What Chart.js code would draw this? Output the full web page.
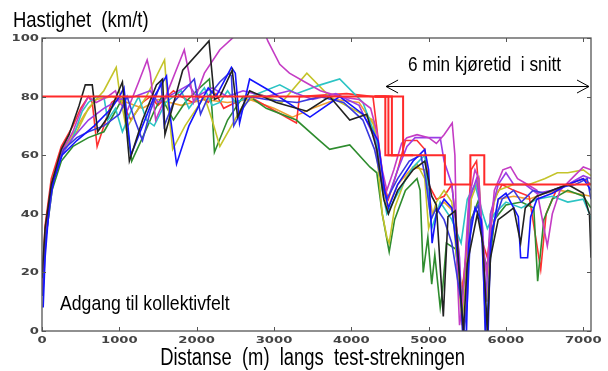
<!DOCTYPE html>
<html>
<head>
<meta charset="utf-8">
<script src="https://cdn.jsdelivr.net/npm/chart.js@4.4.0/dist/chart.umd.min.js"></script>
<style>
  html, body { margin: 0; padding: 0; background: #fff; }
  #wrap { width: 608px; height: 371px; }
</style>
</head>
<body>
<div id="wrap"><canvas id="speedChart" width="608" height="371"></canvas></div>
<script>
// Axis ticks
const distanceTicks = [0, 1000, 2000, 3000, 4000, 5000, 6000, 7000];
const speedTicks = [0, 20, 40, 60, 80, 100];

// Speed limit along the stretch [distance m, km/t]
const limitMain = [[0, 80], [4440, 80], [4440, 60], [5210, 60], [5210, 50], [5540, 50], [5540, 60], [5720, 60], [5720, 50], [7100, 50]];
const limitB = [[4300, 80], [4480, 80], [4480, 60], [4600, 60]];
const limitC = [[4300, 80], [4525, 80], [4525, 60], [4600, 60]];
const limitD = [[4300, 80], [4670, 80], [4670, 60], [4800, 60]];

// Test runs [distance m, km/t]
const runBlack = [[0, 18], [40, 35], [120, 50], [250, 62], [350, 67], [480, 77], [560, 84], [650, 84], [720, 68], [850, 73], [1040, 85], [1130, 58], [1300, 72], [1480, 84], [1560, 86], [1590, 67], [1820, 89], [2160, 99], [2230, 79], [2300, 80], [2460, 89], [2530, 73], [2685, 82], [3030, 78], [3425, 75], [3720, 80], [3980, 72], [4200, 74], [4330, 62], [4420, 45], [4480, 40], [4600, 48], [4800, 55], [4950, 58], [5040, 46], [5100, 43], [5190, 5], [5250, 39], [5345, 41], [5410, 14], [5450, 0], [5500, 23], [5630, 40], [5700, 30], [5760, 0], [5800, 25], [5900, 38], [6000, 40], [6100, 42], [6190, 30], [6250, 42], [6400, 46], [6600, 48], [6800, 50], [7000, 47], [7080, 40], [7100, 25]];
const runBlue = [[15, 8], [40, 25], [100, 45], [160, 52], [260, 60], [450, 65], [675, 70], [900, 76], [1000, 80], [1060, 83], [1150, 60], [1300, 70], [1450, 80], [1610, 87], [1650, 75], [1740, 57], [1900, 70], [2050, 78], [2150, 83], [2250, 80], [2450, 90], [2500, 88], [2555, 71], [2685, 86], [2945, 82], [3465, 73], [3850, 80], [4150, 74], [4345, 65], [4430, 48], [4480, 42], [4600, 50], [4800, 58], [4950, 62], [5000, 55], [5045, 30], [5100, 40], [5200, 45], [5300, 42], [5400, 20], [5440, 0], [5490, 0], [5520, 30], [5600, 42], [5680, 38], [5740, 0], [5770, 0], [5800, 30], [5900, 45], [6000, 47], [6160, 39], [6190, 25], [6280, 25], [6320, 39], [6400, 45], [6600, 47], [6800, 50], [7000, 52], [7100, 48]];
const runBlue2 = [[10, 12], [50, 32], [150, 52], [280, 62], [450, 66], [600, 68], [800, 70], [1000, 74], [1100, 80], [1200, 72], [1300, 65], [1400, 75], [1500, 82], [1540, 85], [1580, 70], [1700, 78], [1970, 86], [2050, 74], [2150, 80], [2300, 85], [2420, 88], [2450, 87], [2480, 70], [2600, 76], [2700, 80], [2900, 79], [3300, 78], [3600, 80], [3900, 78], [4150, 72], [4300, 62], [4400, 50], [4460, 45], [4600, 52], [4750, 58], [4900, 60], [4960, 52], [5030, 38], [5100, 42], [5200, 38], [5300, 30], [5420, 10], [5460, 0], [5500, 10], [5550, 38], [5640, 43], [5700, 30], [5730, 0], [5760, 5], [5820, 35], [5950, 45], [6100, 48], [6200, 44], [6350, 48], [6500, 47], [6700, 49], [6900, 50], [7050, 52], [7100, 45]];
const runCyan = [[0, 15], [40, 33], [130, 50], [250, 60], [400, 66], [520, 75], [600, 78], [700, 80], [800, 80], [850, 72], [950, 76], [1040, 68], [1150, 75], [1250, 80], [1350, 72], [1450, 70], [1600, 78], [1700, 80], [1800, 82], [1900, 76], [2100, 83], [2200, 77], [2300, 78], [2400, 82], [2500, 78], [2700, 80], [3075, 84], [3290, 81], [3600, 84], [3850, 86], [4150, 78], [4320, 66], [4400, 48], [4460, 40], [4600, 47], [4800, 56], [4950, 60], [5000, 45], [5040, 35], [5150, 44], [5300, 38], [5420, 30], [5500, 45], [5600, 50], [5700, 40], [5760, 35], [5850, 40], [6000, 44], [6200, 42], [6400, 45], [6600, 46], [6800, 44], [7000, 45], [7080, 40], [7100, 38]];
const runYellow = [[0, 14], [50, 35], [150, 53], [300, 63], [450, 68], [600, 76], [800, 82], [960, 90], [1000, 82], [1090, 69], [1200, 74], [1350, 80], [1500, 88], [1585, 92.5], [1620, 80], [1690, 62], [1850, 70], [2000, 76], [2100, 80], [2200, 72], [2300, 63], [2450, 70], [2600, 77], [2800, 81], [3100, 78], [3425, 88], [3720, 80], [4000, 76], [4280, 72], [4350, 55], [4400, 40], [4460, 32], [4490, 30], [4560, 42], [4700, 52], [4850, 57], [4950, 52], [5000, 35], [5100, 44], [5200, 48], [5300, 44], [5380, 20], [5430, 2], [5480, 18], [5550, 45], [5650, 52], [5720, 18], [5760, 10], [5800, 40], [5900, 48], [6100, 50], [6300, 50], [6500, 52], [6665, 54], [6800, 54], [7000, 55], [7100, 53]];
const runMagenta = [[0, 13], [40, 32], [120, 50], [250, 61], [400, 68], [500, 75], [600, 80], [700, 78], [850, 80], [950, 82], [1000, 78], [1100, 75], [1250, 85], [1360, 92.5], [1400, 88], [1470, 72], [1600, 80], [1750, 90], [1840, 96], [1900, 88], [1960, 78], [2100, 88], [2300, 96], [2465, 100], [2550, 104], [2850, 104], [2920, 99], [3075, 91], [3200, 88], [3400, 85], [3600, 82], [3850, 80], [4100, 79], [4250, 76], [4330, 68], [4400, 55], [4460, 48], [4550, 55], [4650, 64], [4720, 66], [4850, 67], [5000, 66], [5100, 64], [5200, 67], [5305, 71], [5340, 60], [5370, 20], [5400, 2], [5440, 10], [5520, 45], [5600, 55], [5650, 52], [5700, 30], [5750, 20], [5850, 48], [5960, 55], [6060, 56], [6150, 52], [6280, 50], [6400, 48], [6535, 29], [6600, 40], [6700, 48], [6850, 52], [7000, 56], [7100, 55]];
const runGreen = [[0, 12], [40, 30], [130, 48], [250, 58], [400, 63], [600, 66], [800, 68], [950, 75], [1050, 80], [1100, 70], [1160, 58], [1300, 66], [1450, 75], [1550, 80], [1600, 77], [1700, 72], [1850, 78], [2000, 82], [2165, 86], [2200, 75], [2230, 61], [2400, 72], [2600, 80], [2685, 80], [2900, 76], [3290, 72], [3590, 65], [3720, 62], [3980, 63.5], [4240, 56], [4330, 54], [4400, 40], [4490, 27], [4560, 38], [4700, 48], [4850, 52], [4890, 48], [4930, 20], [4990, 32], [5040, 16], [5080, 26], [5150, 8], [5180, 14], [5230, 30], [5350, 28], [5420, 10], [5480, 20], [5550, 38], [5650, 45], [5720, 25], [5780, 20], [5850, 38], [6000, 43], [6200, 44], [6360, 42], [6410, 17], [6490, 38], [6600, 45], [6800, 48], [7000, 46], [7100, 42]];
const runRed = [[0, 16], [40, 36], [120, 52], [250, 63], [400, 70], [500, 76], [600, 80], [650, 78], [713, 63], [800, 70], [900, 78], [1000, 80], [1150, 72], [1300, 78], [1400, 80], [1500, 77], [1700, 82], [1800, 80], [1950, 78], [2050, 80], [2150, 78], [2250, 81], [2350, 76], [2500, 78], [2685, 80], [3290, 71], [3330, 80], [3940, 81], [4280, 80], [4350, 65], [4420, 50], [4480, 45], [4600, 55], [4700, 65], [4850, 65], [4950, 62], [5000, 50], [5100, 45], [5200, 46], [5300, 50], [5380, 30], [5420, 10], [5480, 25], [5550, 55], [5620, 58], [5700, 30], [5760, 25], [5850, 45], [5950, 50], [6100, 48], [6300, 46], [6450, 21], [6520, 40], [6650, 48], [6800, 50], [7000, 52], [7100, 50]];
const runOrange = [[0, 15], [40, 34], [130, 51], [260, 62], [420, 68], [550, 74], [700, 79], [900, 80], [1100, 78], [1300, 76], [1500, 79], [1800, 77], [2100, 79], [2400, 78], [2685, 79], [3000, 76], [3240, 73], [3500, 76], [3800, 79], [4100, 78], [4300, 70], [4400, 50], [4470, 42], [4600, 50], [4800, 56], [4950, 55], [5050, 40], [5200, 44], [5350, 40], [5420, 15], [5480, 20], [5560, 48], [5650, 50], [5720, 20], [5780, 25], [5900, 45], [6100, 46], [6300, 45], [6500, 47], [6700, 48], [6900, 47], [7100, 46]];
const runPurple = [[0, 14], [40, 31], [130, 50], [250, 60], [400, 66], [600, 72], [800, 76], [1000, 79], [1200, 80], [1400, 82], [1500, 78], [1700, 81], [1900, 84], [2000, 80], [2200, 83], [2400, 80], [2600, 82], [2900, 80], [3200, 82], [3500, 79], [3800, 81], [4100, 77], [4300, 66], [4400, 50], [4470, 45], [4600, 55], [4720, 63], [4825, 66], [5000, 66], [5150, 66], [5200, 58], [5300, 50], [5400, 25], [5440, 0], [5480, 5], [5530, 45], [5620, 52], [5700, 35], [5740, 10], [5800, 40], [5900, 50], [6000, 54], [6100, 50], [6250, 50], [6400, 47], [6600, 48], [6800, 50], [7000, 53], [7100, 52]];

// Travel-time arrow
const arrowFrom = 4450;
const arrowTo = 7100;
const arrowSpeed = 83.5;

function toPoints(pairs) {
    return pairs.map(([x, y]) => ({ x: x, y: y }));
}

function runDataset(pairs, color, width) {
    return {
        data: toPoints(pairs),
        borderColor: color,
        borderWidth: width || 1.6,
        pointRadius: 0,
        tension: 0,
        fill: false
    };
}

// Text with horizontal squeeze / stretch
function drawText(ctx, text, x, y, font, sx, align, color) {
    ctx.save();
    ctx.translate(x, y);
    ctx.scale(sx, 1);
    ctx.font = font;
    ctx.fillStyle = color || '#000';
    ctx.textAlign = align || 'left';
    ctx.textBaseline = 'alphabetic';
    ctx.fillText(text, 0, 0);
    ctx.restore();
}

const frameAndText = {
    id: 'frameAndText',
    afterDatasetsDraw(chart) {
        const { ctx, chartArea: a, scales } = chart;
        const xs = scales.x, ys = scales.y;
        ctx.save();

        // Box and inward ticks on all four sides
        ctx.strokeStyle = '#555';
        ctx.lineWidth = 1.3;
        ctx.strokeRect(a.left, a.top, a.right - a.left, a.bottom - a.top);
        ctx.beginPath();
        distanceTicks.forEach(v => {
            const px = Math.round(xs.getPixelForValue(v)) + 0.5;
            ctx.moveTo(px, a.bottom); ctx.lineTo(px, a.bottom - 4);
            ctx.moveTo(px, a.top); ctx.lineTo(px, a.top + 4);
        });
        speedTicks.forEach(v => {
            const py = Math.round(ys.getPixelForValue(v)) + 0.5;
            ctx.moveTo(a.left, py); ctx.lineTo(a.left + 4, py);
            ctx.moveTo(a.right, py); ctx.lineTo(a.right - 4, py);
        });
        ctx.lineWidth = 1;
        ctx.stroke();

        // Tick labels
        const tickFont = 'bold 8.5px "DejaVu Sans", sans-serif';
        distanceTicks.forEach(v => {
            drawText(ctx, String(v), xs.getPixelForValue(v), a.bottom + 12, tickFont, 1.55, 'center', '#444');
        });
        speedTicks.forEach(v => {
            drawText(ctx, String(v), a.left - 3, ys.getPixelForValue(v) + 3, tickFont, 1.55, 'right', '#444');
        });

        // Titles and notes
        const big = size => size + 'px "Liberation Sans", Arial, sans-serif';
        drawText(ctx, 'Hastighet  (km/t)', 13, 27, big(22), 0.84);
        drawText(ctx, 'Distanse  (m)  langs  test-strekningen', (a.left + a.right) / 2 - 4, 365, big(23), 0.8, 'center');
        drawText(ctx, 'Adgang til kollektivfelt', 60, 310, big(21), 0.84);

        // Travel-time arrow
        const x1 = xs.getPixelForValue(arrowFrom);
        const x2 = xs.getPixelForValue(arrowTo) - 2;
        const ay = Math.round(ys.getPixelForValue(arrowSpeed)) + 0.5;
        ctx.strokeStyle = '#000';
        ctx.lineWidth = 1;
        ctx.beginPath();
        ctx.moveTo(x1, ay); ctx.lineTo(x2, ay);
        ctx.moveTo(x1 + 12, ay - 6.5); ctx.lineTo(x1, ay); ctx.lineTo(x1 + 12, ay + 6.5);
        ctx.moveTo(x2 - 12, ay - 6.5); ctx.lineTo(x2, ay); ctx.lineTo(x2 - 12, ay + 6.5);
        ctx.stroke();
        drawText(ctx, '6 min kjøretid  i snitt', (x1 + x2) / 2 - 3, ay - 16, big(20), 0.86, 'center');

        ctx.restore();
    }
};

new Chart(document.getElementById('speedChart'), {
    type: 'line',
    data: {
        datasets: [
            runDataset(limitMain, '#ff2a2a', 2),
            runDataset(limitB, '#ff2a2a', 2),
            runDataset(limitC, '#ff2a2a', 2),
            runDataset(limitD, '#ff2a2a', 2),
            runDataset(runBlack, '#222222'),
            runDataset(runBlue, '#1414ff'),
            runDataset(runBlue2, '#3a3ae0'),
            runDataset(runMagenta, '#c43cc4'),
            runDataset(runPurple, '#9a3ce6'),
            runDataset(runCyan, '#2cc4c4'),
            runDataset(runYellow, '#c4c42a'),
            runDataset(runGreen, '#2e8c2e'),
            runDataset(runRed, '#ff3030'),
            runDataset(runOrange, '#f0a030')
        ]
    },
    options: {
        responsive: false,
        animation: false,
        layout: { padding: { left: 42, right: 17, top: 38, bottom: 40 } },
        plugins: {
            legend: { display: false },
            tooltip: { enabled: false }
        },
        scales: {
            x: { type: 'linear', min: 0, max: 7100, display: false },
            y: { type: 'linear', min: 0, max: 100, display: false }
        }
    },
    plugins: [frameAndText]
});
</script>
</body>
</html>
